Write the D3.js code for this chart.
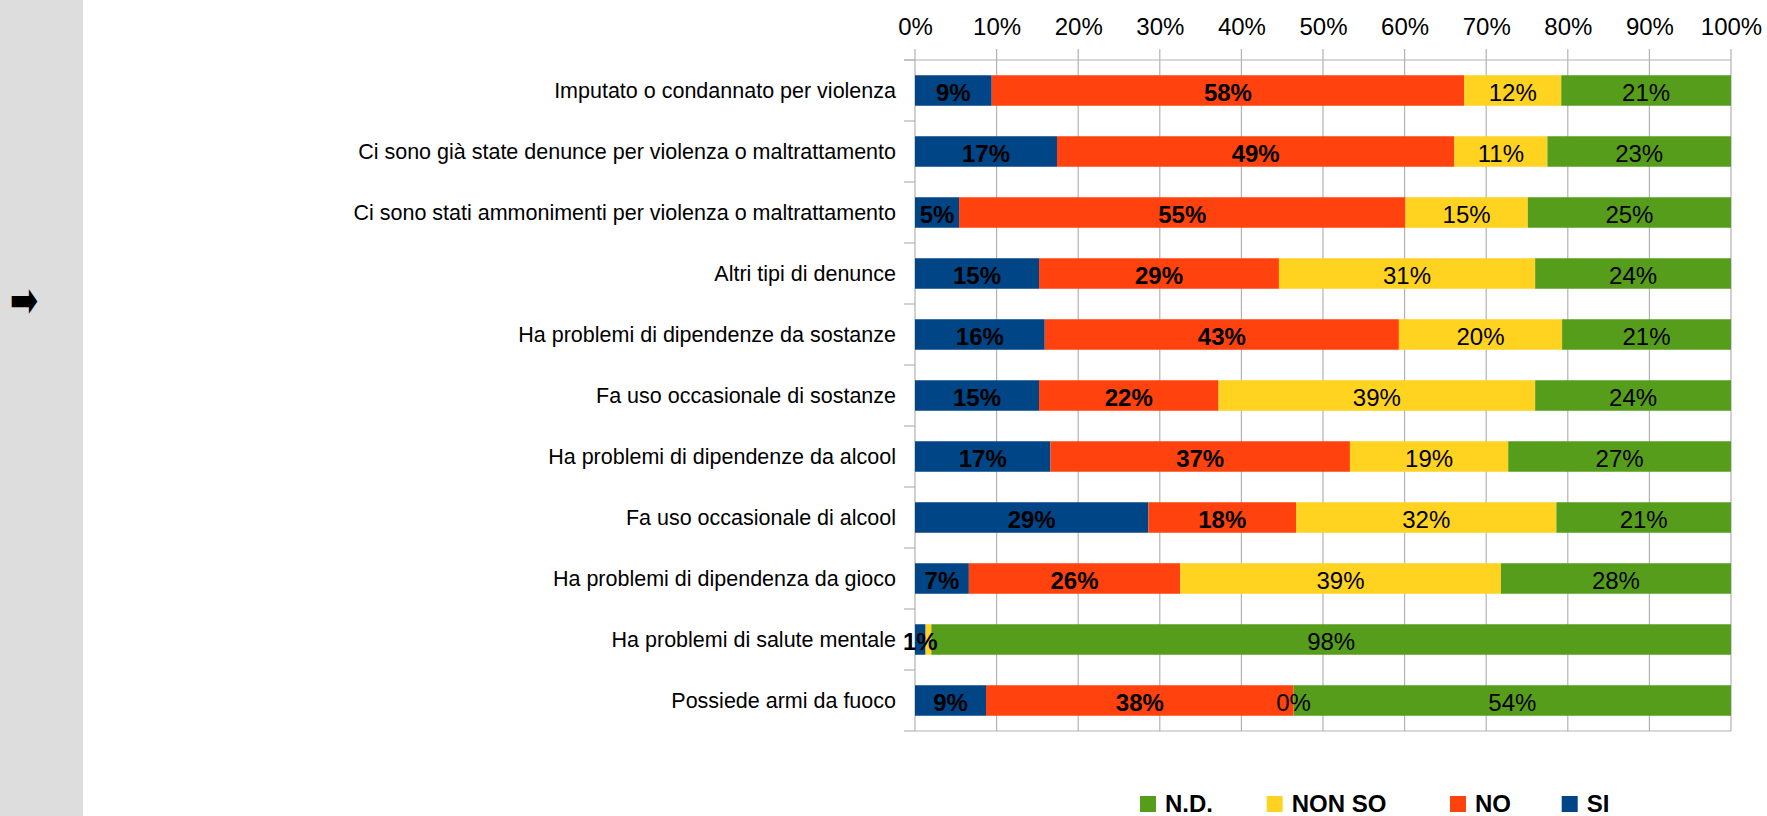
<!DOCTYPE html>
<html>
<head>
<meta charset="utf-8">
<script src="https://cdn.jsdelivr.net/npm/d3@7"></script>
<style>
  html, body { margin: 0; padding: 0; background: #ffffff; }
  svg { display: block; }
</style>
</head>
<body>
<svg id="chart" width="1767" height="816"></svg>
<script>
// Answer categories, one row each (top to bottom)
const categories = [
  "Imputato o condannato per violenza",
  "Ci sono già state denunce per violenza o maltrattamento",
  "Ci sono stati ammonimenti per violenza o maltrattamento",
  "Altri tipi di denunce",
  "Ha problemi di dipendenze da sostanze",
  "Fa uso occasionale di sostanze",
  "Ha problemi di dipendenze da alcool",
  "Fa uso occasionale di alcool",
  "Ha problemi di dipendenza da gioco",
  "Ha problemi di salute mentale",
  "Possiede armi da fuoco"
];

// Share of answers per category (percent)
const valuesSI     = [9.4, 17.4, 5.4, 15.2, 15.9, 15.2, 16.6, 28.6, 6.6, 1.3, 8.7];
const valuesNO     = [57.9, 48.7, 54.7, 29.4, 43.4, 22.0, 36.7, 18.1, 25.9, 0.0, 37.7];
const valuesNONSO  = [11.9, 11.4, 15.0, 31.4, 20.0, 38.8, 19.4, 31.9, 39.3, 0.7, 0.0];
const valuesND     = [20.8, 22.5, 24.9, 24.0, 20.7, 24.0, 27.3, 21.4, 28.2, 98.0, 53.6];

const seriesNames  = ["SI", "NO", "NON SO", "N.D."];
const seriesColors = ["#004586", "#ff420e", "#ffd320", "#579d1c"];
const seriesBold   = [true, true, false, false];
const legendOrder  = ["N.D.", "NON SO", "NO", "SI"];

const xTicks = [0, 10, 20, 30, 40, 50, 60, 70, 80, 90, 100];

// Layout
const plot = { left: 915, right: 1731, top: 60, bottom: 731 };
const gridColor = "#b3b3b3";
const font = "'Liberation Sans', Arial, sans-serif";

const svg = d3.select("#chart");

// Side panel with arrow marker
svg.append("rect")
  .attr("x", 0).attr("y", 0)
  .attr("width", 83).attr("height", 816)
  .attr("fill", "#dddddd");
svg.append("g")
  .attr("transform", "translate(24, 300) scale(1, 1.45)")
  .append("text")
  .attr("x", 0).attr("y", 0)
  .attr("text-anchor", "middle")
  .attr("dominant-baseline", "central")
  .attr("font-family", "'DejaVu Sans', sans-serif")
  .attr("font-size", 34)
  .attr("fill", "#000")
  .text("➡");

const x = d3.scaleLinear().domain([0, 100]).range([plot.left, plot.right]);
const y = d3.scaleBand()
  .domain(categories)
  .range([plot.top, plot.bottom])
  .paddingInner(0.5)
  .paddingOuter(0.25);

const seriesValues = [valuesSI, valuesNO, valuesNONSO, valuesND];
const rows = categories.map((c, i) => {
  const r = { category: c };
  seriesNames.forEach((s, k) => { r[s] = seriesValues[k][i]; });
  return r;
});
const stacked = d3.stack().keys(seriesNames)(rows);

// Vertical gridlines with short ticks above the plot
const grid = svg.append("g");
grid.selectAll("line.v")
  .data(xTicks)
  .join("line")
  .attr("class", "v")
  .attr("x1", d => x(d)).attr("x2", d => x(d))
  .attr("y1", plot.top - 11).attr("y2", plot.bottom)
  .attr("stroke", gridColor).attr("stroke-width", 1.2);

// Top axis with percent labels
const xAxis = d3.axisTop(x)
  .tickValues(xTicks)
  .tickFormat(d => d + "%")
  .tickSize(0)
  .tickPadding(0);
const axG = svg.append("g")
  .attr("transform", `translate(0, ${plot.top - 25})`)
  .call(xAxis);
axG.select(".domain").remove();
axG.selectAll("text")
  .attr("font-family", font)
  .attr("font-size", 24)
  .attr("fill", "#000")
  .attr("dy", 0);

// Plot frame
grid.append("line")
  .attr("x1", plot.left - 11).attr("x2", plot.right)
  .attr("y1", plot.top).attr("y2", plot.top)
  .attr("stroke", gridColor).attr("stroke-width", 1.2);
grid.append("line")
  .attr("x1", plot.left).attr("x2", plot.right)
  .attr("y1", plot.bottom).attr("y2", plot.bottom)
  .attr("stroke", gridColor).attr("stroke-width", 1.2);

// Category axis ticks at band boundaries
const boundaries = categories.map(c => y(c) - y.step() * y.paddingInner() / 2);
boundaries.push(plot.bottom);
grid.selectAll("line.h")
  .data(boundaries)
  .join("line")
  .attr("class", "h")
  .attr("x1", plot.left - 11).attr("x2", plot.left)
  .attr("y1", d => d).attr("y2", d => d)
  .attr("stroke", gridColor).attr("stroke-width", 1.2);

// Category labels
svg.append("g")
  .selectAll("text")
  .data(categories)
  .join("text")
  .attr("x", plot.left - 19)
  .attr("y", d => y(d) + y.bandwidth() / 2 + 7.5)
  .attr("text-anchor", "end")
  .attr("font-family", font)
  .attr("font-size", 21.5)
  .attr("fill", "#000")
  .text(d => d);

// Stacked bars
const barG = svg.append("g");
stacked.forEach((layer, k) => {
  barG.append("g")
    .attr("fill", seriesColors[k])
    .selectAll("rect")
    .data(layer)
    .join("rect")
    .attr("x", d => x(d[0]))
    .attr("y", d => y(d.data.category))
    .attr("width", d => x(d[1]) - x(d[0]))
    .attr("height", y.bandwidth());
});

// Value labels, centred in each segment; a label that would collide
// with the previous one in the same row is skipped
const labelG = svg.append("g");
const measure = svg.append("text")
  .attr("font-family", font).attr("font-size", 24)
  .attr("visibility", "hidden");
categories.forEach((c, i) => {
  let lastRight = -Infinity;
  stacked.forEach((layer, k) => {
    const d = layer[i];
    const v = d[1] - d[0];
    const txt = Math.round(v) + "%";
    measure.attr("font-weight", seriesBold[k] ? "bold" : "normal").text(txt);
    const w = measure.node().getComputedTextLength();
    const cx = (x(d[0]) + x(d[1])) / 2;
    if (cx - w / 2 < lastRight) return;
    lastRight = cx + w / 2;
    labelG.append("text")
      .attr("x", cx)
      .attr("y", y(c) + y.bandwidth() / 2 + 10)
      .attr("text-anchor", "middle")
      .attr("font-family", font)
      .attr("font-size", 24)
      .attr("font-weight", seriesBold[k] ? "bold" : "normal")
      .attr("fill", "#000")
      .text(txt);
  });
});
measure.remove();

// Legend
const legendX = [1140, 1266.7, 1450, 1561.7];
const legend = svg.append("g");
legendOrder.forEach((name, j) => {
  const k = seriesNames.indexOf(name);
  legend.append("rect")
    .attr("x", legendX[j]).attr("y", 796)
    .attr("width", 16).attr("height", 16)
    .attr("fill", seriesColors[k]);
  legend.append("text")
    .attr("x", legendX[j] + 25).attr("y", 812)
    .attr("font-family", font)
    .attr("font-size", 24)
    .attr("font-weight", "bold")
    .attr("fill", "#000")
    .text(name);
});
</script>
</body>
</html>
